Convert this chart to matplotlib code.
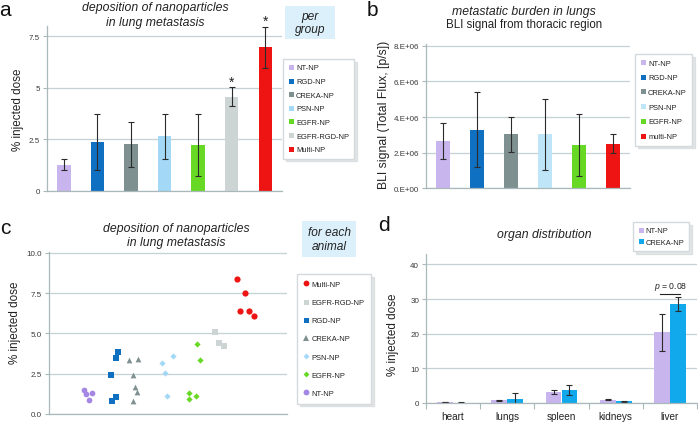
import numpy as np
import matplotlib
matplotlib.use("Agg")
import matplotlib.pyplot as plt
from matplotlib.lines import Line2D
from matplotlib.patches import Rectangle

# (a) % injected dose in lung metastasis, per group (mean, sd)
GROUPS_A = ["NT-NP", "RGD-NP", "CREKA-NP", "PSN-NP", "EGFR-NP", "EGFR-RGD-NP", "Multi-NP"]
MEAN_A = [1.28, 2.37, 2.26, 2.65, 2.24, 4.58, 6.97]
ERR_A = [0.25, 1.37, 1.09, 1.10, 1.50, 0.44, 0.99]
STAR_A = [False, False, False, False, False, True, True]
TICKS_A = [0, 2.5, 5, 7.5]
TICKLABELS_A = ["0", "2.5", "5", "7.5"]

# (b) BLI signal from thoracic region
GROUPS_B = ["NT-NP", "RGD-NP", "CREKA-NP", "PSN-NP", "EGFR-NP", "multi-NP"]
MEAN_B = [2.65e6, 3.30e6, 3.02e6, 3.02e6, 2.41e6, 2.50e6]
ERR_B = [1.00e6, 2.10e6, 0.97e6, 2.02e6, 1.74e6, 0.53e6]
TICKS_B = [0, 2e6, 4e6, 6e6, 8e6]
TICKLABELS_B = ["0.E+00", "2.E+06", "4.E+06", "6.E+06", "8.E+06"]

# (c) each animal: x = jittered group position, y = % injected dose
NT_X = [1.19, 1.25, 1.45, 1.35]
NT_Y = [1.48, 1.23, 1.32, 0.88]
RGD_X = [2.33, 2.26, 2.08, 2.24, 2.13]
RGD_Y = [3.87, 3.46, 2.39, 1.03, 0.82]
CREKA_X = [2.69, 2.98, 2.84, 2.90, 2.97, 2.84]
CREKA_Y = [3.37, 3.42, 2.43, 1.69, 1.34, 0.80]
PSN_X = [3.81, 4.16, 3.90, 3.96]
PSN_Y = [3.15, 3.58, 2.53, 1.11]
EGFR_X = [4.97, 5.09, 4.72, 4.71, 4.94]
EGFR_Y = [4.34, 3.37, 1.28, 0.95, 1.09]
EGFRRGD_X = [5.58, 5.72, 5.88]
EGFRRGD_Y = [5.06, 4.38, 4.20]
MULTI_X = [6.31, 6.60, 6.43, 6.72, 6.89]
MULTI_Y = [8.40, 7.53, 6.36, 6.42, 6.09]
TICKS_C = [0, 2.5, 5, 7.5, 10]
TICKLABELS_C = ["0.0", "2.5", "5.0", "7.5", "10.0"]

# (d) organ distribution
ORGANS = ["heart", "lungs", "spleen", "kidneys", "liver"]
NT_ORG = [0.20, 0.77, 3.06, 0.96, 20.4]
NT_ORG_ERR = [0.05, 0.15, 0.55, 0.12, 5.3]
CREKA_ORG = [0.12, 1.24, 3.83, 0.48, 28.6]
CREKA_ORG_ERR = [0.05, 1.70, 1.50, 0.10, 2.0]
TICKS_D = [0, 10, 20, 30, 40]

COL = {"NT-NP": "#c8b5ed", "RGD-NP": "#0f6fc1", "CREKA-NP": "#7e9090",
       "PSN-NP": "#a3d8f6", "EGFR-NP": "#67d925", "EGFR-RGD-NP": "#cdd4d4",
       "Multi-NP": "#ee1414", "multi-NP": "#ee1414"}
COL_B = dict(COL, **{"PSN-NP": "#bfe6f8"})
NT_DOT = "#a487e3"
CREKA_D = "#12a8ec"

W, H = 698, 427
SPINE = "#a9b8ba"
GRID = "#c4d2d5"
TICKC = "#3a3a3a"
ERRKW = dict(ecolor="#2b2b2b", elinewidth=0.8, capsize=2, capthick=0.8)

plt.rcParams["font.family"] = ["Liberation Sans", "DejaVu Sans"]
plt.rcParams["mathtext.fontset"] = "custom"
plt.rcParams["mathtext.it"] = "Liberation Sans:italic"
plt.rcParams["mathtext.rm"] = "Liberation Sans"

fig = plt.figure(figsize=(W / 100, H / 100), dpi=100)


def box(x0, y0, x1, y1):
    # pixel box (top-left origin) -> figure-fraction rect
    return [x0 / W, 1 - y1 / H, (x1 - x0) / W, (y1 - y0) / H]


def ftext(x, y, s, **kw):
    kw.setdefault("ha", "center"); kw.setdefault("va", "center")
    fig.text(x / W, 1 - y / H, s, **kw)


def frame(ax, ticks, labels):
    for s in ("top", "right"):
        ax.spines[s].set_visible(False)
    for s in ("left", "bottom"):
        ax.spines[s].set_color(SPINE); ax.spines[s].set_linewidth(0.9)
    ax.set_yticks(ticks); ax.set_yticklabels(labels)
    ax.tick_params(axis="y", length=3, width=0.8, color=SPINE,
                   labelsize=5.8, labelcolor=TICKC, pad=2)
    ax.set_xticks([])
    ax.yaxis.grid(True, color=GRID, lw=0.9)
    ax.set_axisbelow(True)


def legend(handles, labels, x0, y0, spacing, pad=0.7):
    fig.legend(handles, labels, loc="upper left", bbox_to_anchor=(x0 / W, 1 - y0 / H),
               borderaxespad=0, fontsize=5.4, frameon=True, fancybox=False,
               edgecolor="#d4dadc", framealpha=1, labelcolor="#222222",
               shadow={"color": "#c4c9cc", "alpha": 0.45},
               handlelength=0.7, handletextpad=0.35, labelspacing=spacing,
               borderpad=pad)


def sq(c, m="s", ms=3.6):
    return Line2D([], [], marker=m, ls="none", color=c, markersize=ms, markeredgewidth=0)


# ---- (a)
ax = fig.add_axes(box(47, 27, 282, 192))
xa = np.arange(len(GROUPS_A))
ax.bar(xa, MEAN_A, 0.4, color=[COL[g] for g in GROUPS_A])
ax.errorbar(xa, MEAN_A, yerr=ERR_A, fmt="none", **ERRKW)
for x, m, e, s in zip(xa, MEAN_A, ERR_A, STAR_A):
    if s:
        ax.text(x, m + e - 0.05, "*", ha="center", va="bottom", fontsize=10, color="#222222")
ax.set_xlim(-0.5, len(GROUPS_A) - 0.5); ax.set_ylim(0, 8)
frame(ax, TICKS_A, TICKLABELS_A)
legend([sq(COL[g]) for g in GROUPS_A], GROUPS_A, 283, 60, 0.85)

# ---- (b)
ax = fig.add_axes(box(426, 45, 630, 189.3))
xb = np.arange(len(GROUPS_B))
ax.bar(xb, MEAN_B, 0.41, color=[COL_B[g] for g in GROUPS_B])
ax.errorbar(xb, MEAN_B, yerr=ERR_B, fmt="none", **ERRKW)
ax.set_xlim(-0.5, len(GROUPS_B) - 0.5); ax.set_ylim(0, 8.1e6)
frame(ax, TICKS_B, TICKLABELS_B)
legend([sq(COL_B[g]) for g in GROUPS_B], GROUPS_B, 635, 55, 1.0)

# ---- (c)
ax = fig.add_axes(box(49, 253, 287, 415))
pts = [(NT_X, NT_Y, NT_DOT, "o", 17), (RGD_X, RGD_Y, COL["RGD-NP"], "s", 13),
       (CREKA_X, CREKA_Y, COL["CREKA-NP"], "^", 17), (PSN_X, PSN_Y, COL["PSN-NP"], "D", 10),
       (EGFR_X, EGFR_Y, COL["EGFR-NP"], "D", 10), (EGFRRGD_X, EGFRRGD_Y, COL["EGFR-RGD-NP"], "s", 13),
       (MULTI_X, MULTI_Y, COL["Multi-NP"], "o", 20)]
for xs, ys, c, m, s in pts:
    ax.scatter(xs, ys, s=s, c=c, marker=m, linewidths=0, zorder=3)
ax.set_xlim(0, 8); ax.set_ylim(0, 10.05)
frame(ax, TICKS_C, TICKLABELS_C)
legend([sq(COL["Multi-NP"], "o", 4.2), sq(COL["EGFR-RGD-NP"]), sq(COL["RGD-NP"]),
        sq(COL["CREKA-NP"], "^", 4.0), sq(COL["PSN-NP"], "D", 3.0), sq(COL["EGFR-NP"], "D", 3.0),
        sq(NT_DOT, "o", 4.2)],
       ["Multi-NP", "EGFR-RGD-NP", "RGD-NP", "CREKA-NP", "PSN-NP", "EGFR-NP", "NT-NP"],
       297, 275, 1.45, pad=0.9)

# ---- (d)
ax = fig.add_axes(box(426, 255, 697, 404))
xd = np.arange(len(ORGANS))
ax.bar(xd - 0.147, NT_ORG, 0.29, color=COL["NT-NP"])
ax.bar(xd + 0.147, CREKA_ORG, 0.29, color=CREKA_D)
ax.errorbar(xd - 0.147, NT_ORG, yerr=NT_ORG_ERR, fmt="none", **ERRKW)
ax.errorbar(xd + 0.147, CREKA_ORG, yerr=CREKA_ORG_ERR, fmt="none", **ERRKW)
ax.set_xlim(-0.5, len(ORGANS) - 0.5); ax.set_ylim(0, 43)
frame(ax, TICKS_D, [str(t) for t in TICKS_D])
ax.set_xticks(xd, ORGANS)
ax.set_xticks(np.arange(len(ORGANS) + 1) - 0.5, minor=True)
ax.tick_params(axis="x", which="major", length=0, labelsize=7.2, labelcolor="#222222", pad=6)
ax.tick_params(axis="x", which="minor", length=4, width=0.8, color=SPINE)
li = len(ORGANS) - 1
ytop = max(NT_ORG[li] + NT_ORG_ERR[li], CREKA_ORG[li] + CREKA_ORG_ERR[li]) + 0.9
ax.plot([li - 0.18, li + 0.18], [ytop, ytop], color="#222222", lw=0.8)
ax.text(li + 0.02, ytop + 0.6, r"$p$ = 0.08", ha="center", va="bottom", fontsize=6.2, color="#222222")
legend([sq(COL["NT-NP"]), sq(CREKA_D)], ["NT-NP", "CREKA-NP"], 633, 223, 0.6, pad=0.65)

# ---- titles, labels, panel letters
TT = dict(fontsize=8.8, style="italic", color="#222222")
ftext(155, 8, "deposition of nanoparticles", **TT)
ftext(155, 23, "in lung metastasis", **TT)
ftext(524, 12, "metastatic burden in lungs", **TT)
ftext(524, 25, "BLI signal from thoracic region", fontsize=8.3, color="#222222")
ftext(176, 229, "deposition of nanoparticles", **TT)
ftext(176, 243, "in lung metastasis", **TT)
ftext(544, 235, "organ distribution", **TT)

YL = dict(fontsize=8.4, rotation=90, color="#222222")
ftext(18, 110, "% injected dose", **YL)
ftext(384, 115, "BLI signal (Total Flux, [p/s])", fontsize=8.8, rotation=90, color="#222222")
ftext(15, 323, "% injected dose", **YL)
ftext(393, 335, "% injected dose", **YL)

for x, y, s in [(5, 10, "a"), (372, 10, "b"), (5, 229, "c"), (384, 226, "d")]:
    ftext(x, y, s, fontsize=15, color="#111111")

# light-blue note boxes
for (x0, y0, x1, y1), s in [((285, 7, 335, 40), "per\ngroup"),
                            ((302, 222, 356, 258), "for each\nanimal")]:
    fig.patches.append(Rectangle((x0 / W, 1 - y1 / H), (x1 - x0) / W, (y1 - y0) / H,
                                 transform=fig.transFigure, facecolor="#dcf0fb",
                                 edgecolor="none", zorder=0))
    ftext((x0 + x1) / 2, (y0 + y1) / 2, s, fontsize=8.6, style="italic",
          color="#222222", linespacing=1.15)

fig.savefig("out.png", dpi=100)
